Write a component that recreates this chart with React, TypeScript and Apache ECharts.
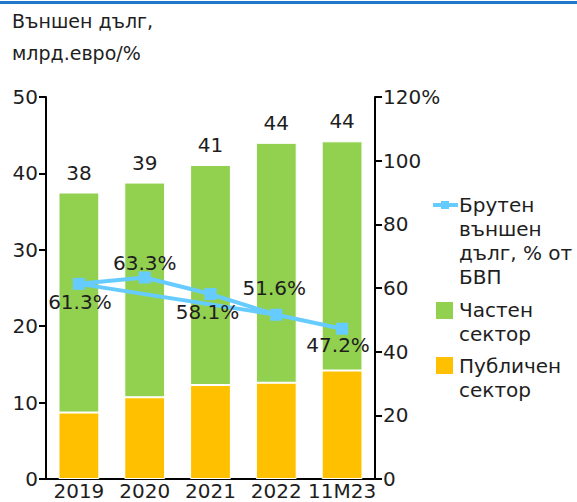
import React, { useEffect, useRef } from "react";
import * as echarts from "echarts";

const categories = ["2019", "2020", "2021", "2022", "11M23"];
const publicSector = [8.7, 10.7, 12.3, 12.6, 14.2];
const privateSector = [28.8, 28.1, 28.8, 31.4, 30.0];
const totalLabels = ["38", "39", "41", "44", "44"];
const grossDebtPct = [61.3, 63.3, 58.1, 51.6, 47.2];
const extraSegment = [61.3, null, null, 51.6, null];
const leftTicks = { min: 0, max: 50, interval: 10 };
const rightTicks = { min: 0, max: 120, interval: 20 };
const titleLines = ["Външен дълг,", "млрд.евро/%"];
const legendLine = ["Брутен", "външен", "дълг, % от", "БВП"];
const legendPrivate = ["Частен", "сектор"];
const legendPublic = ["Публичен", "сектор"];

const labelOffsets = [[1, 18], [0, -14], [-3, 18], [-2, -27], [-4, 16]];

const FONT = "'DejaVu Sans', Verdana, sans-serif";
const TXT = "#1e1e1e";
const GREEN = "#92D050";
const ORANGE = "#FFC000";
const BLUE = "#66CCFF";
const FS = 20;

export default function App() {
  const ref = useRef<HTMLDivElement>(null);
  useEffect(() => {
    document.body.style.margin = "0";
    const chart = echarts.init(ref.current!, null, { renderer: "svg" });
    chart.setOption({
      animation: false,
      textStyle: { fontFamily: FONT },
      grid: { left: 46, right: 202, top: 97, bottom: 23 },
      xAxis: {
        type: "category",
        data: categories,
        axisLine: { lineStyle: { color: "#000", width: 2 } },
        axisTick: { show: false },
        axisLabel: {
          color: TXT,
          fontSize: FS,
          fontFamily: FONT,
          margin: 2,
          lineHeight: 20,
          interval: 0,
        },
      },
      yAxis: [
        {
          type: "value",
          ...leftTicks,
          splitLine: { show: false },
          axisLine: { show: true, lineStyle: { color: "#000", width: 2 } },
          axisTick: { show: true, length: 7, lineStyle: { color: "#000", width: 2 } },
          axisLabel: { color: TXT, fontSize: FS, fontFamily: FONT, margin: 8 },
        },
        {
          type: "value",
          ...rightTicks,
          position: "right",
          splitLine: { show: false },
          axisLine: { show: true, lineStyle: { color: "#000", width: 2 } },
          axisTick: { show: true, length: 7, lineStyle: { color: "#000", width: 2 } },
          axisLabel: {
            color: TXT,
            fontSize: FS,
            fontFamily: FONT,
            margin: 8,
            formatter: (v: number) => (v === 120 ? "120%" : String(v)),
          },
        },
      ],
      series: [
        {
          type: "bar",
          name: "Публичен сектор",
          stack: "debt",
          data: publicSector,
          barWidth: "62%",
          itemStyle: { color: ORANGE, borderColor: "#fff", borderWidth: 1 },
        },
        {
          type: "bar",
          name: "Частен сектор",
          stack: "debt",
          data: privateSector,
          barWidth: "62%",
          itemStyle: { color: GREEN, borderColor: "#fff", borderWidth: 1 },
          label: {
            show: true,
            position: "top",
            distance: 10,
            color: TXT,
            fontSize: FS,
            fontFamily: FONT,
            formatter: (p: any) => totalLabels[p.dataIndex],
          },
        },
        {
          type: "line",
          name: "extra",
          yAxisIndex: 1,
          data: extraSegment,
          connectNulls: true,
          symbol: "none",
          lineStyle: { color: BLUE, width: 4 },
          z: 3,
        },
        {
          type: "line",
          name: "Брутен външен дълг, % от БВП",
          yAxisIndex: 1,
          data: grossDebtPct.map((v, i) => ({
            value: v,
            label: { offset: labelOffsets[i] },
          })),
          symbol: "rect",
          symbolSize: 12,
          itemStyle: { color: BLUE },
          lineStyle: { color: BLUE, width: 4 },
          z: 4,
          label: {
            show: true,
            position: "inside",
            color: TXT,
            fontSize: FS,
            fontFamily: FONT,
            formatter: (p: any) => p.value.toFixed(1) + "%",
          },
        },
      ],
      graphic: [
        { type: "rect", shape: { x: 0, y: 1, width: 577, height: 3 }, style: { fill: "#1F78C8" } },
        {
          type: "text",
          left: 12,
          top: 5,
          style: {
            text: titleLines.join("\n"),
            font: `19px ${FONT}`,
            fill: TXT,
            lineHeight: 32,
          },
        },
        { type: "line", shape: { x1: 433, y1: 205, x2: 458, y2: 205 }, style: { stroke: BLUE, lineWidth: 4 } },
        { type: "rect", shape: { x: 441, y: 201, width: 8, height: 8 }, style: { fill: BLUE } },
        {
          type: "text",
          x: 459,
          y: 193,
          style: { text: legendLine.join("\n"), font: `${FS}px ${FONT}`, fill: TXT, lineHeight: 24 },
        },
        { type: "rect", shape: { x: 436, y: 302, width: 17, height: 17 }, style: { fill: GREEN } },
        {
          type: "text",
          x: 459,
          y: 298,
          style: { text: legendPrivate.join("\n"), font: `${FS}px ${FONT}`, fill: TXT, lineHeight: 24 },
        },
        { type: "rect", shape: { x: 436, y: 357, width: 17, height: 17 }, style: { fill: ORANGE } },
        {
          type: "text",
          x: 459,
          y: 354,
          style: { text: legendPublic.join("\n"), font: `${FS}px ${FONT}`, fill: TXT, lineHeight: 24 },
        },
      ],
    });
    return () => chart.dispose();
  }, []);
  return <div ref={ref} style={{ width: 577, height: 502 }} />;
}
